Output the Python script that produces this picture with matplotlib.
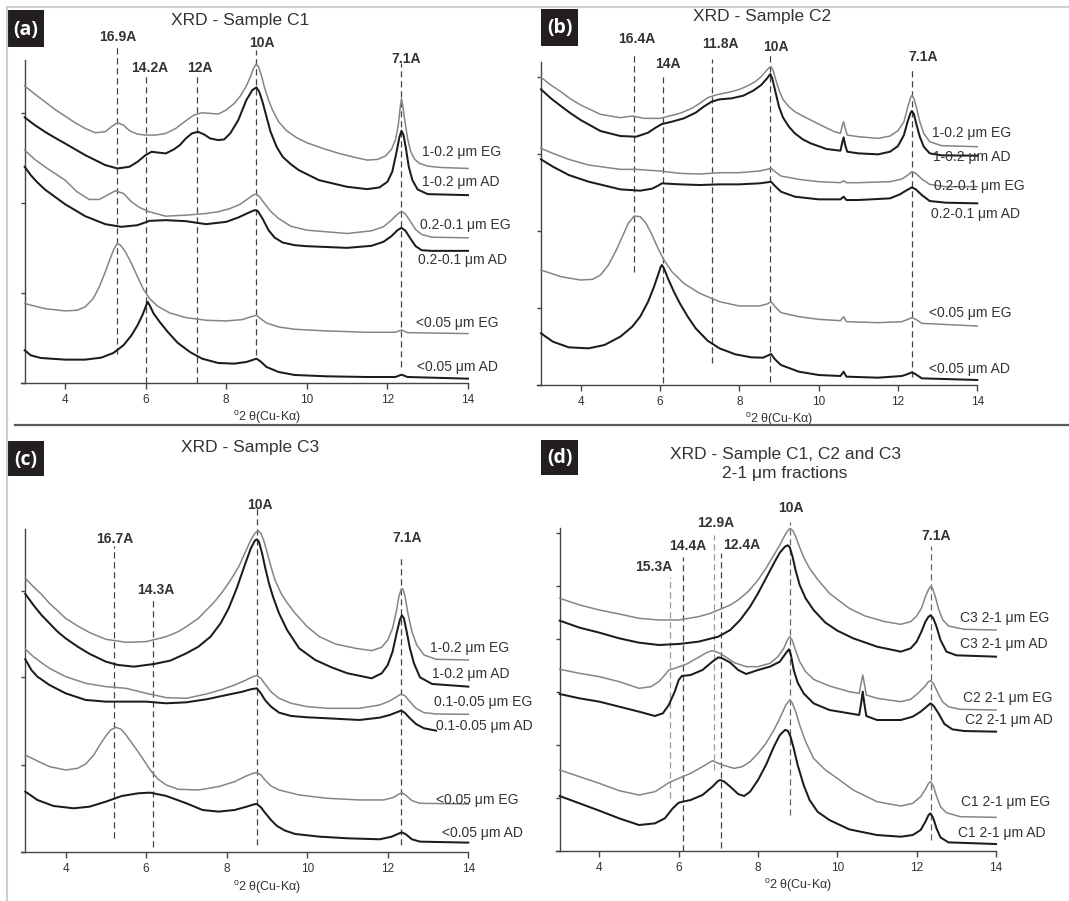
import matplotlib.pyplot as plt
from matplotlib.patches import Rectangle
from matplotlib.lines import Line2D

# ---------------- data (2-theta in degrees, intensity in arbitrary counts) ----------------
# (a) sample C1
a_eg1_x = [3, 3.25, 3.5, 3.75, 4, 4.25, 4.5, 4.75, 5.0, 5.15, 5.3, 5.45, 5.6, 5.8, 6.0, 6.25, 6.5, 6.75, 7.0, 7.2, 7.4, 7.6, 7.8, 8.0, 8.2, 8.35, 8.5, 8.6, 8.68, 8.74, 8.8, 8.87, 8.95, 9.05, 9.15, 9.3, 9.5, 9.75, 10.0, 10.4, 10.8, 11.2, 11.5, 11.75, 11.95, 12.1, 12.2, 12.27, 12.32, 12.35, 12.38, 12.43, 12.5, 12.58, 12.68, 12.8, 13.0, 13.3, 14]
a_eg1_y = [890, 866, 843, 820, 800, 780, 763, 750, 753, 768, 780, 773, 756, 746, 743, 743, 748, 763, 786, 803, 810, 808, 806, 818, 838, 860, 890, 918, 943, 956, 948, 923, 886, 848, 818, 783, 756, 735, 720, 703, 688, 676, 668, 670, 680, 700, 728, 773, 828, 852, 833, 788, 733, 693, 670, 658, 650, 646, 643]
a_ad1_x = [3, 3.25, 3.5, 3.75, 4, 4.5, 5, 5.3, 5.6, 5.8, 6.0, 6.15, 6.35, 6.5, 6.7, 6.85, 7.0, 7.15, 7.3, 7.45, 7.6, 7.8, 7.95, 8.1, 8.3, 8.5, 8.65, 8.75, 8.82, 8.9, 9.0, 9.1, 9.25, 9.4, 9.6, 9.8, 10.3, 11, 11.5, 11.8, 12.0, 12.12, 12.22, 12.3, 12.35, 12.4, 12.46, 12.53, 12.62, 12.75, 13, 14]
a_ad1_y = [796, 773, 753, 735, 718, 683, 653, 643, 648, 663, 683, 693, 690, 688, 700, 713, 733, 748, 753, 745, 733, 728, 730, 748, 788, 848, 878, 886, 873, 843, 798, 753, 708, 678, 656, 638, 608, 588, 581, 586, 603, 633, 688, 738, 756, 743, 703, 648, 608, 580, 566, 563]
a_eg2_x = [3, 3.25, 3.5, 3.75, 4, 4.3, 4.6, 4.85, 5.05, 5.25, 5.45, 5.65, 5.85, 6.1, 6.5, 7, 7.5, 7.8, 8.1, 8.35, 8.55, 8.68, 8.75, 8.83, 8.95, 9.1, 9.3, 9.6, 10, 11, 11.6, 11.9, 12.1, 12.25, 12.35, 12.45, 12.55, 12.7, 12.85, 13.1, 14]
a_eg2_y = [698, 670, 648, 628, 608, 573, 550, 550, 563, 576, 568, 543, 526, 513, 500, 503, 508, 513, 523, 536, 553, 564, 566, 558, 538, 515, 493, 470, 458, 448, 456, 468, 488, 506, 515, 506, 488, 460, 445, 437, 435]
a_ad2_x = [3, 3.15, 3.3, 3.5, 3.75, 4, 4.5, 5, 5.4, 5.8, 6.1, 6.5, 7, 7.5, 8, 8.3, 8.55, 8.7, 8.78, 8.9, 9.05, 9.2, 9.4, 9.7, 10, 11, 11.6, 11.9, 12.1, 12.25, 12.35, 12.45, 12.57, 12.7, 12.85, 13.1, 14]
a_ad2_y = [648, 623, 603, 580, 558, 536, 500, 476, 468, 473, 486, 488, 485, 476, 483, 496, 510, 518, 516, 493, 458, 436, 421, 413, 410, 405, 411, 423, 440, 458, 465, 456, 433, 410, 398, 396, 396]
a_eg3_x = [3, 3.5, 4, 4.3, 4.5, 4.7, 4.85, 5.0, 5.12, 5.22, 5.3, 5.38, 5.5, 5.65, 5.8, 5.95, 6.1, 6.3, 6.6, 7.0, 7.5, 8.0, 8.4, 8.6, 8.75, 8.85, 9.0, 9.3, 9.7, 10.5, 11.5, 12.2, 12.35, 12.5, 14]
a_eg3_y = [238, 223, 216, 218, 228, 253, 288, 333, 373, 403, 418, 413, 393, 358, 318, 280, 253, 230, 210, 196, 188, 186, 190, 198, 203, 193, 180, 168, 161, 156, 152, 152, 159, 151, 148]
a_ad3_x = [3, 3.15, 3.4, 4, 4.5, 4.9, 5.2, 5.45, 5.65, 5.8, 5.92, 6.0, 6.05, 6.1, 6.2, 6.35, 6.55, 6.8, 7.1, 7.4, 7.8, 8.2, 8.5, 8.68, 8.75, 8.85, 9.0, 9.3, 9.7, 10.5, 11.5, 12.2, 12.35, 12.5, 14]
a_ad3_y = [98, 83, 75, 70, 70, 76, 90, 113, 143, 173, 203, 228, 243, 233, 208, 183, 153, 120, 93, 73, 60, 58, 63, 70, 73, 65, 48, 33, 24, 20, 18, 18, 25, 18, 13]
a_names = ['1-0.2 μm EG', '1-0.2 μm AD', '0.2-0.1 μm EG', '0.2-0.1 μm AD', '<0.05 μm EG', '<0.05 μm AD']
a_peaks = ['16.9A', '14.2A', '12A', '10A', '7.1A']
a_peak_x = [5.28, 6.02, 7.27, 8.74, 12.33]

# (b) sample C2
b_eg1_x = [3, 3.25, 3.5, 3.75, 4, 4.5, 5, 5.3, 5.6, 6, 6.5, 6.8, 7, 7.2, 7.4, 7.6, 7.8, 8, 8.2, 8.4, 8.55, 8.68, 8.75, 8.8, 8.85, 8.92, 9.0, 9.1, 9.25, 9.4, 9.6, 9.8, 10.1, 10.4, 10.55, 10.6, 10.63, 10.67, 10.72, 11, 11.5, 11.8, 12.0, 12.15, 12.25, 12.32, 12.35, 12.4, 12.47, 12.55, 12.65, 12.8, 13.1, 14]
b_eg1_y = [923, 900, 880, 858, 840, 812, 802, 807, 800, 800, 815, 830, 845, 862, 870, 875, 880, 887, 897, 910, 925, 943, 952, 955, 945, 915, 885, 857, 835, 820, 807, 795, 777, 760, 755, 780, 790, 770, 750, 745, 740, 747, 763, 790, 835, 863, 869, 860, 830, 790, 755, 730, 718, 715]
b_ad1_x = [3, 3.25, 3.5, 3.75, 4, 4.5, 5, 5.4, 5.7, 5.9, 6.05, 6.3, 6.6, 6.9, 7.1, 7.3, 7.5, 7.8, 8.1, 8.35, 8.55, 8.7, 8.78, 8.83, 8.9, 9.0, 9.1, 9.25, 9.4, 9.6, 9.8, 10.2, 10.55, 10.6, 10.63, 10.67, 10.72, 11, 11.5, 11.8, 12.0, 12.15, 12.25, 12.32, 12.35, 12.4, 12.47, 12.55, 12.65, 12.8, 13.1, 14]
b_ad1_y = [887, 860, 837, 815, 795, 762, 747, 745, 757, 773, 783, 790, 800, 817, 835, 850, 857, 860, 868, 883, 900, 920, 933, 920, 885, 835, 803, 775, 755, 737, 725, 708, 703, 730, 743, 720, 700, 695, 692, 700, 717, 750, 793, 817, 822, 813, 780, 745, 715, 695, 689, 688]
b_eg2_x = [3, 3.3, 3.7, 4.2, 5, 5.4, 6, 6.5, 7, 7.5, 8, 8.5, 8.7, 8.8, 8.9, 9.05, 9.5, 10, 10.55, 10.63, 10.7, 11, 11.8, 12.1, 12.25, 12.35, 12.45, 12.6, 12.8, 13.2, 14]
b_eg2_y = [710, 695, 677, 660, 647, 647, 642, 635, 633, 637, 637, 642, 647, 650, 640, 627, 617, 610, 607, 613, 607, 607, 610, 618, 630, 640, 635, 618, 602, 595, 595]
b_ad2_x = [3, 3.3, 3.7, 4.2, 5, 5.5, 5.8, 5.95, 6.05, 6.5, 7, 7.5, 8, 8.5, 8.7, 8.8, 8.9, 9.05, 9.4, 10, 10.55, 10.63, 10.7, 11, 11.8, 12.05, 12.2, 12.35, 12.45, 12.6, 12.8, 13.2, 14]
b_ad2_y = [677, 655, 630, 610, 587, 583, 589, 598, 605, 602, 600, 602, 602, 605, 608, 610, 597, 580, 565, 557, 557, 565, 555, 555, 560, 572, 583, 593, 587, 570, 552, 547, 545]
b_eg3_x = [3, 3.5, 4, 4.3, 4.5, 4.7, 4.9, 5.05, 5.2, 5.35, 5.5, 5.65, 5.8, 5.95, 6.1, 6.3, 6.6, 7.0, 7.5, 8.0, 8.5, 8.7, 8.8, 8.9, 9.05, 9.5, 10, 10.55, 10.63, 10.7, 11.5, 12.1, 12.25, 12.35, 12.45, 12.6, 14]
b_eg3_y = [345, 325, 315, 317, 330, 360, 405, 445, 485, 507, 505, 485, 450, 410, 375, 340, 305, 275, 250, 237, 237, 243, 250, 235, 217, 205, 197, 193, 205, 190, 187, 190, 197, 202, 197, 185, 177]
b_ad3_x = [3, 3.3, 3.7, 4.2, 4.6, 5, 5.3, 5.5, 5.7, 5.85, 5.95, 6.02, 6.05, 6.1, 6.2, 6.35, 6.5, 6.7, 6.9, 7.2, 7.5, 7.9, 8.3, 8.6, 8.75, 8.8, 8.9, 9.05, 9.5, 10, 10.55, 10.63, 10.7, 11.5, 12.1, 12.25, 12.35, 12.45, 12.6, 14]
b_ad3_y = [155, 130, 113, 110, 120, 145, 175, 205, 250, 295, 330, 355, 360, 350, 320, 280, 245, 205, 170, 133, 110, 92, 83, 82, 90, 93, 77, 60, 40, 30, 27, 40, 25, 22, 27, 33, 38, 32, 20, 15]
b_names = ['1-0.2 μm EG', '1-0.2 μm AD', '0.2-0.1 μm EG', '0.2-0.1 μm AD', '<0.05 μm EG', '<0.05 μm AD']
b_peaks = ['16.4A', '14A', '11.8A', '10A', '7.1A']
b_peak_x = [5.35, 6.08, 7.32, 8.78, 12.36]

# (c) sample C3
c_eg1_x = [3, 3.2, 3.4, 3.6, 3.8, 4, 4.3, 4.6, 5, 5.5, 6, 6.5, 6.8, 7, 7.3, 7.5, 7.7, 7.9, 8.1, 8.3, 8.45, 8.6, 8.7, 8.78, 8.85, 8.93, 9.0, 9.1, 9.2, 9.35, 9.5, 9.7, 10, 10.3, 10.7, 11.2, 11.6, 11.85, 12.0, 12.12, 12.22, 12.28, 12.34, 12.38, 12.43, 12.5, 12.6, 12.72, 12.9, 13.2, 14]
c_eg1_y = [822, 797, 774, 747, 725, 702, 679, 659, 639, 630, 632, 647, 662, 677, 702, 727, 752, 782, 817, 857, 897, 937, 957, 965, 957, 932, 902, 857, 817, 777, 749, 717, 677, 647, 625, 612, 605, 615, 637, 672, 727, 769, 791, 789, 767, 717, 662, 622, 592, 579, 577]
c_ad1_x = [3, 3.2, 3.4, 3.6, 3.8, 4, 4.3, 4.6, 5, 5.3, 5.7, 6.2, 6.6, 7, 7.3, 7.6, 7.85, 8.05, 8.25, 8.45, 8.6, 8.7, 8.75, 8.8, 8.88, 8.96, 9.05, 9.15, 9.3, 9.5, 9.8, 10.2, 10.6, 11, 11.6, 11.85, 12.0, 12.12, 12.22, 12.3, 12.35, 12.4, 12.47, 12.55, 12.65, 12.8, 13.1, 14]
c_ad1_y = [775, 742, 712, 687, 662, 642, 617, 595, 572, 562, 557, 565, 575, 597, 617, 647, 687, 732, 792, 862, 912, 935, 939, 932, 897, 852, 807, 767, 717, 667, 612, 577, 555, 537, 522, 537, 562, 602, 657, 697, 711, 702, 662, 612, 567, 525, 505, 497]
c_eg2_x = [3, 3.2, 3.4, 3.6, 4, 4.5, 5, 5.5, 6, 6.5, 7, 7.5, 7.9, 8.2, 8.45, 8.65, 8.75, 8.85, 8.95, 9.1, 9.3, 9.6, 10, 10.5, 11.3, 11.8, 12.05, 12.2, 12.33, 12.42, 12.55, 12.7, 12.9, 13.2, 14]
c_eg2_y = [610, 587, 569, 552, 527, 507, 497, 492, 477, 464, 462, 475, 489, 502, 515, 527, 530, 522, 505, 482, 462, 447, 437, 432, 432, 442, 454, 465, 475, 470, 452, 432, 419, 415, 414]
c_ad2_x = [3, 3.15, 3.3, 3.6, 4, 4.5, 5, 6, 6.5, 7, 7.5, 8, 8.4, 8.6, 8.75, 8.85, 8.95, 9.1, 9.3, 9.6, 10, 10.5, 11.3, 11.8, 12.05, 12.2, 12.33, 12.42, 12.55, 12.7, 12.9, 13.2]
c_ad2_y = [579, 547, 527, 502, 477, 457, 452, 452, 447, 450, 459, 472, 482, 489, 492, 477, 457, 437, 419, 409, 405, 402, 397, 404, 412, 419, 425, 419, 402, 385, 372, 365]
c_eg3_x = [3, 3.3, 3.6, 4, 4.3, 4.5, 4.7, 4.85, 5.0, 5.12, 5.25, 5.38, 5.5, 5.65, 5.8, 5.95, 6.1, 6.3, 6.5, 6.8, 7.3, 7.8, 8.2, 8.45, 8.65, 8.75, 8.85, 8.95, 9.1, 9.3, 9.8, 10.5, 11.3, 11.9, 12.15, 12.27, 12.35, 12.45, 12.6, 12.8, 14]
c_eg3_y = [292, 274, 257, 247, 252, 265, 292, 322, 349, 367, 375, 369, 352, 327, 302, 275, 247, 219, 202, 189, 187, 197, 212, 227, 237, 239, 232, 217, 199, 187, 172, 162, 157, 157, 165, 174, 179, 171, 155, 147, 145]
c_ad3_x = [3, 3.3, 3.7, 4.2, 4.6, 5, 5.4, 5.8, 6.1, 6.5, 7, 7.4, 7.8, 8.2, 8.5, 8.68, 8.75, 8.85, 8.95, 9.1, 9.25, 9.45, 9.7, 10.3, 11, 11.8, 12.1, 12.25, 12.35, 12.45, 12.6, 12.8, 14]
c_ad3_y = [182, 157, 139, 132, 137, 152, 169, 177, 179, 169, 147, 127, 122, 127, 137, 144, 145, 135, 119, 97, 79, 65, 55, 47, 42, 39, 47, 55, 60, 54, 39, 32, 29]
c_names = ['1-0.2 μm EG', '1-0.2 μm AD', '0.1-0.05 μm EG', '0.1-0.05 μm AD', '<0.05 μm EG', '<0.05 μm AD']
c_peaks = ['16.7A', '14.3A', '10A', '7.1A']
c_peak_x = [5.21, 6.16, 8.76, 12.34]

# (d) 2-1 um fractions of C1, C2, C3
d_eg1_x = [3, 3.5, 4, 4.5, 5, 5.5, 6, 6.5, 6.8, 7, 7.3, 7.5, 7.75, 8, 8.2, 8.4, 8.55, 8.68, 8.78, 8.82, 8.88, 8.95, 9.05, 9.15, 9.3, 9.5, 9.8, 10.3, 10.7, 11.2, 11.6, 11.85, 12.0, 12.12, 12.22, 12.3, 12.35, 12.4, 12.47, 12.56, 12.66, 12.8, 13.2, 14]
d_eg1_y = [757, 737, 722, 710, 697, 692, 692, 702, 712, 722, 737, 752, 777, 812, 847, 887, 917, 947, 964, 966, 960, 942, 910, 880, 847, 814, 772, 727, 704, 687, 679, 687, 704, 727, 762, 784, 792, 787, 762, 722, 692, 674, 664, 662]
d_ad1_x = [3, 3.5, 4, 4.5, 5, 5.5, 6, 6.5, 7, 7.3, 7.55, 7.8, 8.0, 8.2, 8.4, 8.55, 8.68, 8.75, 8.8, 8.87, 8.95, 9.05, 9.2, 9.4, 9.7, 10, 10.4, 11, 11.6, 11.85, 12.0, 12.12, 12.22, 12.3, 12.35, 12.42, 12.5, 12.6, 12.75, 13, 14]
d_ad1_y = [690, 669, 654, 637, 624, 617, 620, 627, 642, 662, 692, 732, 772, 817, 862, 894, 912, 916, 910, 882, 840, 797, 757, 722, 684, 660, 637, 612, 597, 607, 627, 657, 687, 702, 706, 697, 672, 632, 597, 586, 582]
d_eg2_x = [3, 3.5, 4, 4.5, 5, 5.3, 5.5, 5.65, 5.75, 5.9, 6.2, 6.5, 6.7, 6.85, 7.0, 7.15, 7.4, 7.7, 8, 8.3, 8.5, 8.65, 8.75, 8.8, 8.86, 8.95, 9.05, 9.2, 9.4, 9.8, 10.3, 10.55, 10.6, 10.64, 10.68, 10.73, 11, 11.6, 11.85, 12.05, 12.2, 12.3, 12.35, 12.42, 12.52, 12.65, 12.8, 13.1, 14]
d_eg2_y = [544, 532, 522, 507, 487, 492, 507, 527, 542, 547, 560, 580, 594, 600, 594, 584, 564, 552, 552, 562, 582, 607, 634, 642, 632, 600, 567, 537, 514, 494, 477, 472, 502, 527, 502, 467, 457, 447, 454, 474, 492, 507, 510, 502, 477, 447, 432, 424, 422]
d_ad2_x = [3, 3.5, 4, 4.5, 5, 5.4, 5.6, 5.75, 5.9, 6.0, 6.08, 6.3, 6.6, 6.85, 7.0, 7.1, 7.3, 7.5, 7.7, 8, 8.3, 8.55, 8.7, 8.78, 8.83, 8.9, 9.0, 9.15, 9.4, 9.8, 10.3, 10.55, 10.6, 10.64, 10.68, 10.73, 11, 11.6, 11.9, 12.1, 12.25, 12.35, 12.43, 12.55, 12.7, 12.9, 13.2, 14]
d_ad2_y = [470, 457, 447, 432, 417, 404, 412, 437, 477, 512, 524, 527, 542, 567, 580, 577, 564, 542, 530, 542, 552, 567, 592, 604, 587, 542, 504, 472, 442, 422, 412, 407, 442, 477, 442, 404, 392, 392, 402, 417, 432, 442, 434, 412, 380, 364, 359, 357]
d_eg3_x = [3, 3.5, 4, 4.5, 5, 5.4, 5.6, 5.75, 6, 6.3, 6.6, 6.85, 7.1, 7.4, 7.6, 7.8, 8.0, 8.2, 8.4, 8.55, 8.7, 8.8, 8.86, 8.95, 9.05, 9.2, 9.4, 9.7, 10, 10.4, 11, 11.6, 11.9, 12.1, 12.22, 12.3, 12.35, 12.42, 12.5, 12.6, 12.75, 13.1, 14]
d_eg3_y = [242, 222, 202, 180, 167, 177, 192, 204, 217, 232, 252, 270, 257, 247, 252, 267, 292, 322, 362, 397, 437, 452, 444, 417, 377, 327, 277, 242, 217, 182, 147, 134, 142, 162, 184, 202, 207, 194, 164, 132, 114, 102, 100]
d_ad3_x = [3, 3.5, 4, 4.5, 5, 5.4, 5.65, 5.85, 6.0, 6.1, 6.3, 6.6, 6.85, 7.0, 7.05, 7.15, 7.3, 7.5, 7.65, 7.8, 8.0, 8.2, 8.4, 8.55, 8.68, 8.75, 8.82, 8.9, 9.0, 9.15, 9.3, 9.5, 9.8, 10.3, 11, 11.6, 11.9, 12.1, 12.22, 12.3, 12.35, 12.42, 12.5, 12.6, 12.8, 14]
d_ad3_y = [164, 142, 120, 97, 77, 82, 97, 127, 144, 147, 152, 167, 192, 210, 212, 207, 192, 170, 164, 177, 212, 257, 312, 347, 362, 360, 342, 307, 257, 197, 152, 117, 92, 64, 47, 42, 47, 62, 87, 107, 112, 97, 67, 40, 25, 20]
d_names = ['C3 2-1 μm EG', 'C3 2-1 μm AD', 'C2 2-1 μm EG', 'C2 2-1 μm AD', 'C1 2-1 μm EG', 'C1 2-1 μm AD']
d_peaks = ['15.3A', '14.4A', '12.9A', '12.4A', '10A', '7.1A']
d_peak_x = [5.79, 6.1, 6.89, 7.07, 8.8, 12.35]

# ---------------- layout ----------------
plt.rcParams['font.family'] = ['Liberation Sans', 'DejaVu Sans']
plt.rcParams['mathtext.fontset'] = 'custom'
plt.rcParams['mathtext.rm'] = 'Liberation Sans'

W, H = 1069, 901
fig = plt.figure(figsize=(W / 100, H / 100), dpi=100)
GRAY = '#858585'
BLACK = '#1c1c1c'
TXT = '#333333'


def fx(px):
    return px / W


def fy(py):
    return 1 - py / H


def panel(box, ymax, yticks, curves, names, name_pos, peaks, peak_x, peak_lab, peak_span, peak_col):
    left, right, bottom, top = box
    unit = (right - left) / 11.0
    ax = fig.add_axes([fx(left - 0.1 * unit), fy(bottom), (right - left + 0.1 * unit) / W, (bottom - top) / H])
    ax.set_xlim(2.9, 14)
    ax.set_ylim(0, ymax)
    for s in ['top', 'right']:
        ax.spines[s].set_visible(False)
    ax.spines['left'].set_position(('data', 3))
    for s in ['left', 'bottom']:
        ax.spines[s].set_color('#444444')
        ax.spines[s].set_linewidth(1.0)
    ax.set_xticks([4, 6, 8, 10, 12, 14])
    ax.set_yticks(yticks)
    ax.set_yticklabels([])
    ax.tick_params(axis='x', direction='out', length=4, width=1, color='#444444', labelsize=8.5, labelcolor=TXT, pad=4)
    ax.tick_params(axis='y', direction='out', length=3, width=1, color='#444444')
    ax.set_facecolor('none')
    for i, (x, y) in enumerate(curves):
        if i % 2 == 0:
            ax.plot(x, y, color=GRAY, lw=1.1, clip_on=False, zorder=3)
        else:
            ax.plot(x, y, color=BLACK, lw=1.45, clip_on=False, zorder=4)
    for (t, (lx, ly)) in zip(names, name_pos):
        ax.text(lx, ly, t, fontsize=10, color=TXT, ha='left', va='center', clip_on=False, zorder=5)
    for p, px, (lx, ly), (y0, y1), col in zip(peaks, peak_x, peak_lab, peak_span, peak_col):
        ax.plot([px, px], [y0, y1], color=col, lw=0.9, ls=(0, (5, 3)), clip_on=False, zorder=2)
        ax.text(lx, ly, p, fontsize=10, fontweight='bold', color=TXT, ha='center', va='center', clip_on=False)
    ax.annotate(r'$^{\mathrm{o}}$2 θ(Cu-Kα)', xy=(9, 0), xycoords=('data', 'axes fraction'),
                xytext=(0, -25), textcoords='offset points', ha='center', va='center',
                fontsize=9, color=TXT, annotation_clip=False)
    return ax


def tag(x0, y0, x1, y1, s):
    fig.patches.append(Rectangle((fx(x0), fy(y1)), (x1 - x0) / W, (y1 - y0) / H,
                                 transform=fig.transFigure, facecolor='#231f20', edgecolor='none'))
    fig.text(fx((x0 + x1) / 2), fy((y0 + y1) / 2 + 1), s, color='white', fontsize=14,
             fontweight='bold', family=['Open Sans', 'DejaVu Sans'], ha='center', va='center')


# frame lines
fig.add_artist(Line2D([fx(7), 1], [fy(7), fy(7)], color='#cfcfcf', lw=1.5))
fig.add_artist(Line2D([fx(7), fx(7)], [fy(7), 0], color='#cfcfcf', lw=1.5))
fig.add_artist(Line2D([fx(15), 1], [fy(425), fy(425)], color='#5a5a5a', lw=1.6))

panel((24.7, 468, 383, 60), 968, [0, 270, 538, 808],
      [(a_eg1_x, a_eg1_y), (a_ad1_x, a_ad1_y), (a_eg2_x, a_eg2_y), (a_ad2_x, a_ad2_y), (a_eg3_x, a_eg3_y), (a_ad3_x, a_ad3_y)],
      a_names, [(12.87, 693), (12.87, 603), (12.82, 473), (12.76, 370), (12.72, 180), (12.74, 48)],
      a_peaks, a_peak_x, [(5.32, 1038), (6.1, 943), (7.35, 943), (8.88, 1018), (12.47, 970)],
      [(88, 1008), (0, 923), (0, 923), (83, 998), (48, 958)], ['#444444'] * 5)

panel((541, 977.3, 385, 61.7), 970, [0, 230, 462, 693, 925],
      [(b_eg1_x, b_eg1_y), (b_ad1_x, b_ad1_y), (b_eg2_x, b_eg2_y), (b_ad2_x, b_ad2_y), (b_eg3_x, b_eg3_y), (b_ad3_x, b_ad3_y)],
      b_names, [(12.85, 757), (12.89, 685), (12.9, 598), (12.83, 513), (12.79, 215), (12.79, 47)],
      b_peaks, b_peak_x, [(5.41, 1037), (6.19, 963), (7.51, 1022), (8.92, 1015), (12.64, 983)],
      [(340, 995), (5, 923), (65, 977), (10, 995), (25, 950)], ['#444444'] * 5)

panel((25.3, 468.3, 852.3, 529.3), 969, [0, 262, 525, 785],
      [(c_eg1_x, c_eg1_y), (c_ad1_x, c_ad1_y), (c_eg2_x, c_eg2_y), (c_ad2_x, c_ad2_y), (c_eg3_x, c_eg3_y), (c_ad3_x, c_ad3_y)],
      c_names, [(13.06, 612), (13.11, 534), (13.15, 450), (13.2, 379), (13.21, 157), (13.34, 57)],
      c_peaks, c_peak_x, [(5.23, 940), (6.24, 787), (8.83, 1042), (12.47, 942)],
      [(42, 919), (17, 767), (22, 1032), (22, 892)], ['#444444'] * 4)

panel((559.7, 996, 850.7, 528.3), 967, [0, 159, 317, 477, 635, 794, 954],
      [(d_eg1_x, d_eg1_y), (d_ad1_x, d_ad1_y), (d_eg2_x, d_eg2_y), (d_ad2_x, d_ad2_y), (d_eg3_x, d_eg3_y), (d_ad3_x, d_ad3_y)],
      d_names, [(13.08, 697), (13.08, 620), (13.16, 457), (13.22, 392), (13.13, 147), (13.05, 54)],
      d_peaks, d_peak_x, [(5.36, 850), (6.24, 914), (6.94, 982), (7.59, 917), (8.83, 1027), (12.49, 944)],
      [(157, 822), (0, 882), (242, 947), (7, 892), (107, 987), (32, 914)],
      ['#9a9a9a', '#444444', '#9a9a9a', '#444444', '#666666', '#666666'])

# titles
fig.text(fx(240), fy(21), 'XRD - Sample C1', fontsize=12.5, color=TXT, ha='center', va='center')
fig.text(fx(762), fy(17), 'XRD - Sample C2', fontsize=12.5, color=TXT, ha='center', va='center')
fig.text(fx(250), fy(448), 'XRD - Sample C3', fontsize=12.5, color=TXT, ha='center', va='center')
fig.text(fx(785), fy(454), 'XRD - Sample C1, C2 and C3', fontsize=12.5, color=TXT, ha='center', va='center')
fig.text(fx(785), fy(474), '2-1 μm fractions', fontsize=12.5, color=TXT, ha='center', va='center')

tag(8, 10, 44, 47, '(a)')
tag(541, 9, 578, 46, '(b)')
tag(7, 441, 44, 476, '(c)')
tag(541, 440, 578, 475, '(d)')

fig.savefig('out.png', dpi=100)
